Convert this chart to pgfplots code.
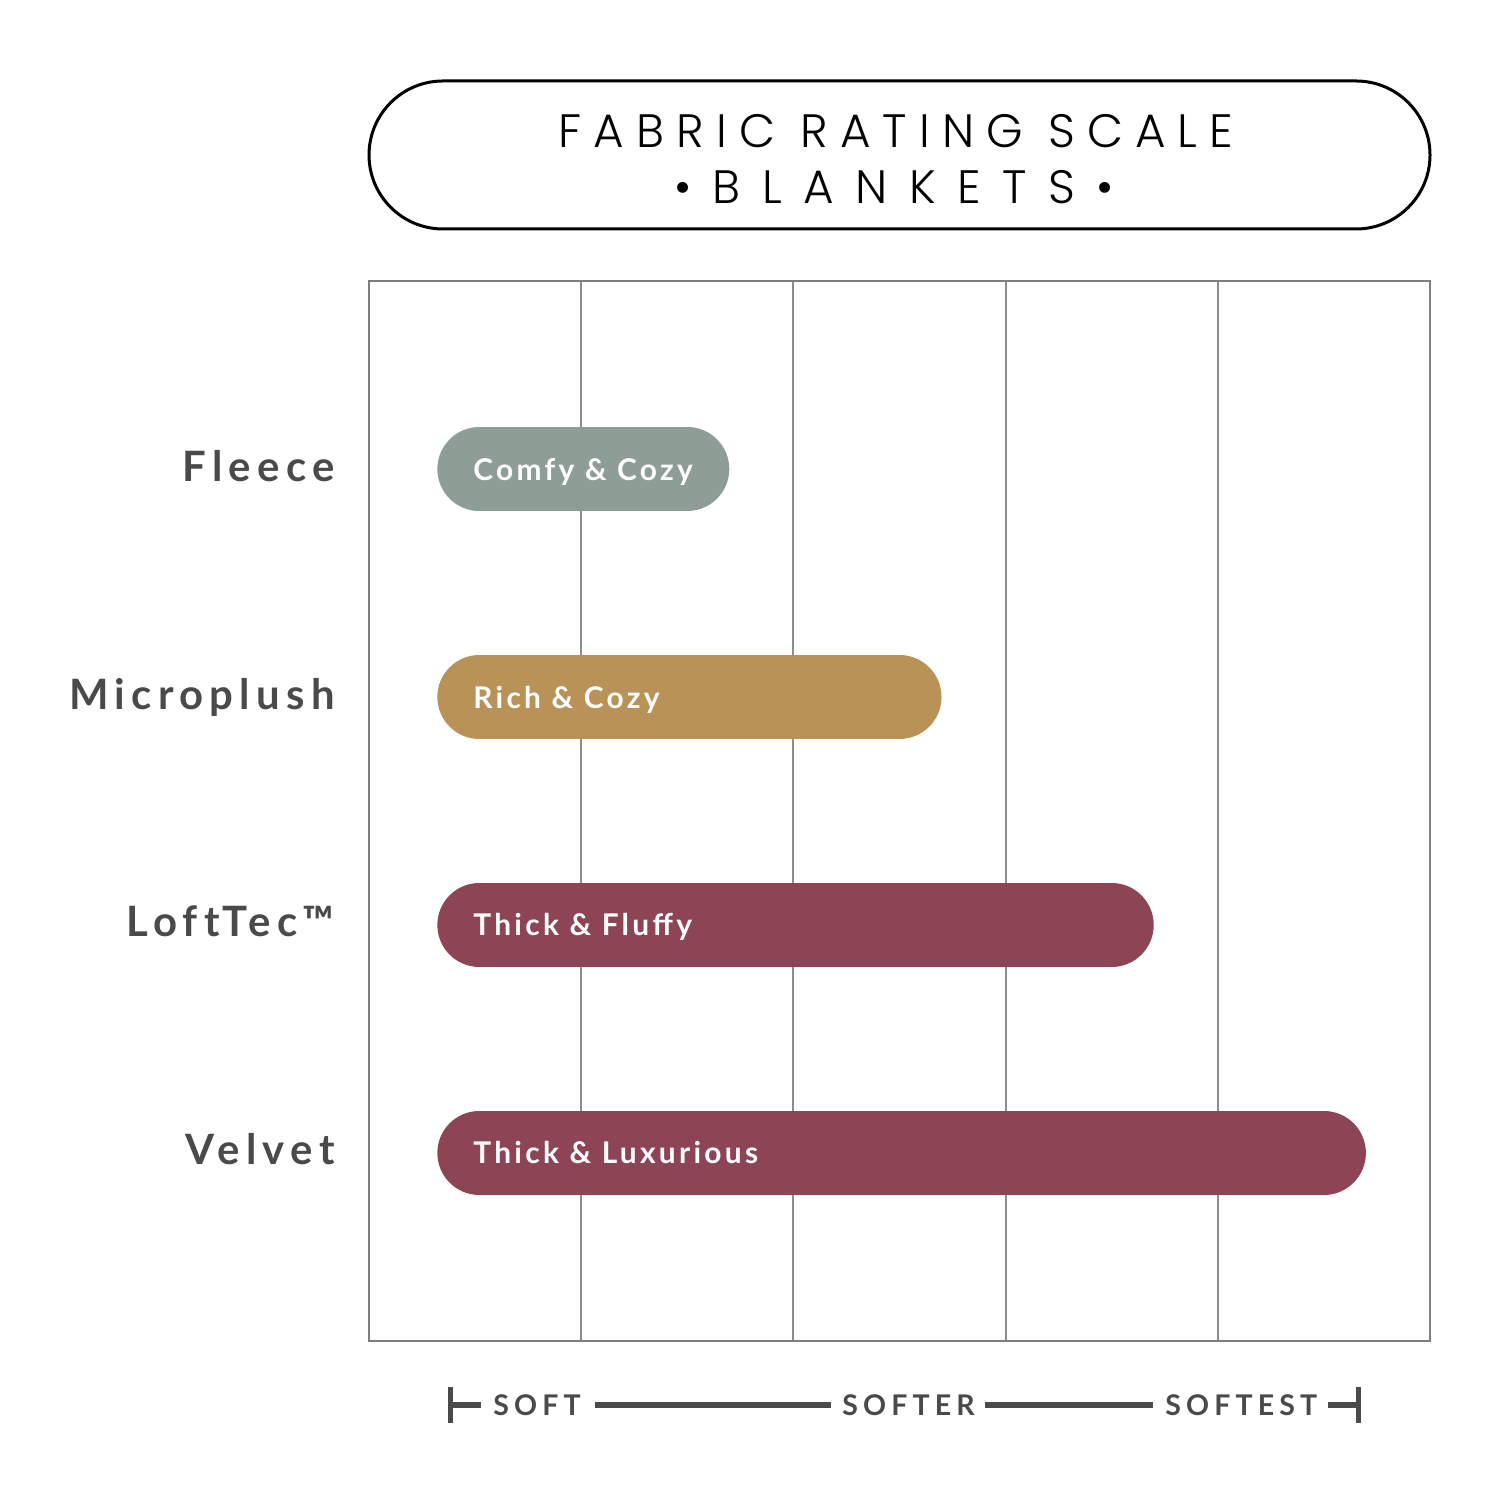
\documentclass[border=0pt]{standalone}
\usepackage{pgfplots}
\pgfplotsset{compat=1.18}
\usepackage{fontspec}
\setmainfont{Lato}
\newfontfamily\titlefont[LetterSpace=26]{Poppins Light}
\newfontfamily\titlefontwide[LetterSpace=46]{Poppins Light}
\newfontfamily\labfont[LetterSpace=15, Ligatures=NoCommon]{Lato}
\newfontfamily\barfont[LetterSpace=11]{Lato}
\newfontfamily\scalefont[LetterSpace=18]{Lato}
\definecolor{fleece}{HTML}{8E9E97}
\definecolor{goldc}{HTML}{B89256}
\definecolor{maroonc}{HTML}{8D4556}
\definecolor{txt}{HTML}{4A4A4A}
\definecolor{gridc}{HTML}{8C8C8C}
\begin{document}
\begin{tikzpicture}
\begin{scope}[x=1bp,y=1bp]
\fill[white] (0,0) rectangle (750,750);
\useasboundingbox (0,0) rectangle (750,750);
\draw[line width=1.5bp, rounded corners=37bp] (184.5,635.5) rectangle (715,709.5);
\node[anchor=base, inner sep=0] at (448,676) {\titlefont\fontsize{23.5}{28}\selectfont FABRIC RATING SCALE};
\node[anchor=base, inner sep=0] at (447,648) {\titlefontwide\fontsize{23.5}{28}\selectfont \textbullet BLANKETS\textbullet};
\end{scope}
\begin{axis}[
  at={(184.5bp,79.5bp)}, anchor=south west,
  scale only axis, width=530.5bp, height=530bp,
  xmin=0, xmax=5, ymin=0.175, ymax=4.825,
  xtick={1,2,3,4}, xticklabels={,,,},
  ytick={1,2,3,4},
  yticklabels={Velvet,LoftTec™,Microplush,Fleece},
  major tick length=0pt,
  xmajorgrids, grid style={draw=gridc, line width=1bp},
  axis line style={draw=gridc!90!black, line width=1.2bp},
  yticklabel style={font=\labfont\bfseries\fontsize{21}{24}\selectfont, text=txt, anchor=base east, inner sep=0pt, xshift=-17bp, yshift=-6bp},
  clip=false,
]
\addplot[line width=42bp, line cap=round, draw=fleece] coordinates {(0.52,4) (1.5,4)};
\addplot[line width=42bp, line cap=round, draw=goldc] coordinates {(0.52,3) (2.5,3)};
\addplot[line width=42bp, line cap=round, draw=maroonc] coordinates {(0.52,2) (3.5,2)};
\addplot[line width=42bp, line cap=round, draw=maroonc] coordinates {(0.52,1) (4.5,1)};
\begin{scope}[every node/.style={anchor=base west, inner sep=0pt, text=white, font=\barfont\bfseries\fontsize{15}{18}\selectfont, yshift=-5.5bp}]
\node at (axis cs:0.49,4) {Comfy \& Cozy};
\node at (axis cs:0.49,3) {Rich \& Cozy};
\node at (axis cs:0.49,2) {Thick \& Fluffy};
\node at (axis cs:0.49,1) {Thick \& Luxurious};
\end{scope}
\end{axis}
\begin{scope}[x=1bp,y=1bp]
\begin{scope}[draw=txt]
\draw[line width=2.5bp] (225.25,38.5) -- (225.25,56.5);
\draw[line width=3bp] (225,47.5) -- (240.5,47.5);
\draw[line width=3bp] (297.5,47.5) -- (415.5,47.5);
\draw[line width=3bp] (492.5,47.5) -- (576.5,47.5);
\draw[line width=3bp] (664,47.5) -- (679,47.5);
\draw[line width=2.5bp] (679.25,38.5) -- (679.25,56.5);
\end{scope}
\begin{scope}[every node/.style={anchor=base west, inner sep=0pt, text=txt, font=\scalefont\bfseries\fontsize{14.3}{16}\selectfont}]
\node at (246.5,42) {SOFT};
\node at (421,42) {SOFTER};
\node at (582.5,42) {SOFTEST};
\end{scope}
\end{scope}
\end{tikzpicture}
\end{document}
